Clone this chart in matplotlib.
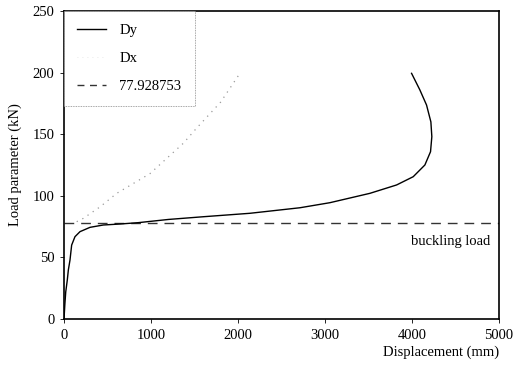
import matplotlib
matplotlib.use("Agg")
import matplotlib.pyplot as plt
from matplotlib.lines import Line2D

# Data
dy_x = [0, 10, 20, 38, 50, 69, 88, 126, 184, 299, 452, 643, 854, 1200, 1600,
        2137, 2712, 3056, 3516, 3823, 4014, 4148, 4213, 4228, 4217, 4167, 4090, 3995]
dy_y = [0, 12, 22, 31.7, 39.8, 47.9, 60, 66.8, 70.9, 74.4, 76.3, 77.1, 78.2, 80.8, 83,
        85.8, 90.3, 94.4, 102, 108.8, 115.5, 125, 135.8, 148, 160, 173.7, 186, 199.4]

dx_x = [146, 222, 414, 606, 988, 1371, 1525, 1800, 2022]
dx_y = [79, 81.7, 91, 102, 118, 142.6, 155, 176, 199.4]

buckling = 77.928753

xticks = [0, 1000, 2000, 3000, 4000, 5000]
yticks = [0, 50, 100, 150, 200, 250]

plt.rcParams['font.family'] = ['Liberation Serif', 'DejaVu Serif']
plt.rcParams['font.size'] = 10.5

W, H = 517, 367
fig = plt.figure(figsize=(W / 100, H / 100), dpi=100)
ax = fig.add_axes([64 / W, (H - 319) / H, 435 / W, 308 / H])

ax.plot(dy_x, dy_y, color='black', lw=1.0, zorder=3)
ax.plot(dx_x, dx_y, color='#9a9a9a', lw=0.9, ls=(0, (1, 4)), zorder=3)
ax.axhline(buckling, color='#333333', lw=1.0, ls=(0, (7, 5)), zorder=2)

ax.text(4900, 63, 'buckling load', ha='right', va='center', fontsize=10.5)

ax.set_xlim(0, 5000)
ax.set_ylim(0, 250)
ax.set_xticks(xticks)
ax.set_yticks(yticks)
ax.tick_params(direction='out', length=3, width=0.6, colors='black', pad=4)
for s in ax.spines.values():
    s.set_linewidth(1.2)
    s.set_color('black')

fig.text(15 / W, 1 - 165 / H, 'Load parameter (kN)', rotation=90, ha='center', va='center', fontsize=10.5)
fig.text(499 / W, 1 - 352 / H, 'Displacement (mm)', ha='right', va='center', fontsize=10.5)

handles = [
    Line2D([], [], color='black', lw=1.0),
    Line2D([], [], color='#e0e0e0', lw=0.6, ls=(0, (1, 5))),
    Line2D([], [], color='#333333', lw=1.0, ls=(0, (5, 4))),
]
leg = ax.legend(handles, ['Dy', 'Dx', '77.928753'], loc='upper left', bbox_to_anchor=(0, 1),
                borderaxespad=0, fancybox=False, framealpha=1, edgecolor='#888888',
                handlelength=2.0, handletextpad=0.9, labelspacing=1.0, borderpad=0.9,
                fontsize=10.5)
leg.get_frame().set_linewidth(0.6)
leg.get_frame().set_linestyle((0, (1, 1)))
leg.set_zorder(5)

fig.savefig('out.png', dpi=100)
